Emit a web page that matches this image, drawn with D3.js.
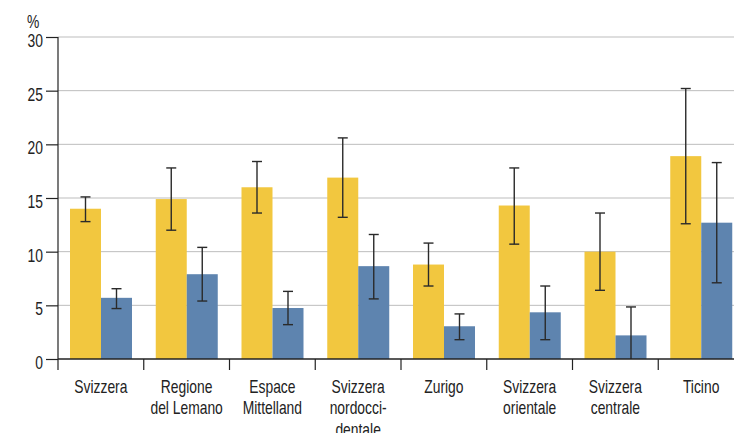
<!DOCTYPE html>
<html><head><meta charset="utf-8">
<script src="https://cdn.jsdelivr.net/npm/d3@7"></script>
<style>
html,body{margin:0;padding:0;background:#fff;}
svg text{font-family:"Liberation Sans","Arimo",Arial,sans-serif;fill:#222;}
</style></head>
<body>
<svg id="chart" width="734" height="433"></svg>
<script>
const categories = [["Svizzera"],["Regione","del Lemano"],["Espace","Mittelland"],["Svizzera","nordocci-","dentale"],["Zurigo"],["Svizzera","orientale"],["Svizzera","centrale"],["Ticino"]];
const yellowValues = [14.0, 14.9, 16.0, 16.9, 8.8, 14.3, 10.0, 18.9];
const yellowLow    = [12.8, 12.0, 13.6, 13.2, 6.8, 10.7, 6.4, 12.6];
const yellowHigh   = [15.1, 17.8, 18.4, 20.6, 10.8, 17.8, 13.6, 25.2];
const blueValues   = [5.7, 7.9, 4.75, 8.65, 3.05, 4.35, 2.2, 12.7];
const blueLow      = [4.7, 5.4, 3.2, 5.6, 1.8, 1.8, -0.5, 7.1];
const blueHigh     = [6.55, 10.4, 6.3, 11.6, 4.2, 6.8, 4.85, 18.3];
const yTicks = [0, 5, 10, 15, 20, 25, 30];

(function(){
const svg = d3.select("#chart");
const mLeft = 58, mTop = 37, mBottom = 359, mRight = 744;
const sx = 0.77; // condensed look
const x = d3.scaleBand().domain(d3.range(categories.length)).range([mLeft, mRight]).paddingInner(0).paddingOuter(0);
const y = d3.scaleLinear().domain([0, 30]).range([mBottom, mTop]);
const colors = {yellow:"#F2C73F", blue:"#5E84AF"};

svg.append("defs").append("clipPath").attr("id","plot")
  .append("rect").attr("x",mLeft).attr("y",0).attr("width",734-mLeft).attr("height",mBottom);

// grid
svg.append("g").selectAll("line").data(yTicks.filter(d=>d>0)).join("line")
  .attr("x1", mLeft).attr("x2", 734).attr("y1", d=>y(d)).attr("y2", d=>y(d))
  .attr("stroke", "#bdbdbd").attr("stroke-width", 1);

const bw = 31, off = 12;
const series = [
  {v:yellowValues, lo:yellowLow, hi:yellowHigh, c:colors.yellow, o:off},
  {v:blueValues, lo:blueLow, hi:blueHigh, c:colors.blue, o:off+bw}
];
series.forEach(s=>{
  svg.append("g").selectAll("rect").data(s.v).join("rect")
    .attr("x",(d,i)=>x(i)+s.o).attr("width",bw)
    .attr("y",d=>y(d)).attr("height",d=>y(0)-y(d)).attr("fill",s.c);
});
series.forEach(s=>{
  const g = svg.append("g").attr("clip-path","url(#plot)").attr("stroke","#2a2a2a").attr("stroke-width",1.4);
  s.v.forEach((d,i)=>{
    const cx = x(i)+s.o+bw/2;
    g.append("line").attr("x1",cx).attr("x2",cx).attr("y1",y(s.lo[i])).attr("y2",y(s.hi[i]));
    g.append("line").attr("x1",cx-5).attr("x2",cx+5).attr("y1",y(s.hi[i])).attr("y2",y(s.hi[i]));
    g.append("line").attr("x1",cx-5).attr("x2",cx+5).attr("y1",y(s.lo[i])).attr("y2",y(s.lo[i]));
  });
});

// y axis
const yAxis = d3.axisLeft(y).tickValues(yTicks).tickSize(12).tickPadding(3).tickSizeOuter(0);
const ya = svg.append("g").attr("transform",`translate(${mLeft},0)`).call(yAxis);
ya.attr("font-family",null).attr("font-size",null);
ya.select(".domain").remove();
ya.selectAll(".tick line").attr("stroke","#222").attr("stroke-width",1.2);
ya.selectAll(".tick text").attr("font-size",18).attr("fill","#222")
  .attr("x",-15/sx).attr("dy","0.52em").attr("transform",`scale(${sx},1)`);
svg.append("line").attr("x1",mLeft).attr("x2",mLeft).attr("y1",mTop).attr("y2",370).attr("stroke","#222").attr("stroke-width",1.2);

// x axis
svg.append("line").attr("x1",mLeft).attr("x2",734).attr("y1",mBottom).attr("y2",mBottom).attr("stroke","#222").attr("stroke-width",1.5);
svg.append("g").selectAll("line").data(d3.range(1,categories.length)).join("line")
  .attr("x1",d=>x(d)).attr("x2",d=>x(d)).attr("y1",mBottom).attr("y2",370)
  .attr("stroke","#222").attr("stroke-width",1.2);
const lab = svg.append("g").selectAll("text").data(categories).join("text")
  .attr("text-anchor","middle").attr("font-size",18)
  .attr("transform",(d,i)=>`translate(${x(i)+x.bandwidth()/2},393) scale(${sx},1)`);
lab.each(function(lines){
  d3.select(this).selectAll("tspan").data(lines).join("tspan")
    .attr("x",0).attr("y",(d,j)=>j*21.5).text(d=>d);
});

svg.append("text").attr("transform",`translate(27,28) scale(${sx},1)`).attr("font-size",18).text("%");
})();
</script>
</body></html>
